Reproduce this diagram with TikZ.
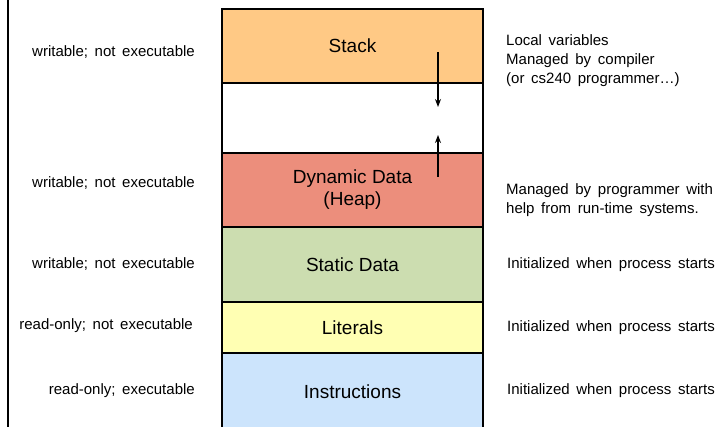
\documentclass[tikz,border=0pt]{standalone}
\usepackage{fontspec}
\setmainfont{Liberation Sans}
\newfontfamily\sidefont[WordSpace=1.6]{Liberation Sans}
\usetikzlibrary{arrows.meta, positioning}
\definecolor{stackFill}{HTML}{FFC985}
\definecolor{heapFill}{HTML}{EC8E7C}
\definecolor{staticFill}{HTML}{CCDDB0}
\definecolor{literalFill}{HTML}{FFFFB3}
\definecolor{codeFill}{HTML}{CCE4FC}
\tikzstyle{segment}=[draw,line width=1.5pt,minimum width=261pt,inner sep=0pt,outer sep=0pt,align=center,font=\fontsize{19}{22}\selectfont]
\tikzstyle{access}=[anchor=east,inner sep=0pt,font=\sidefont\fontsize{15}{19}\selectfont]
\tikzstyle{note}=[anchor=west,align=left,inner sep=0pt,font=\sidefont\fontsize{15}{19}\selectfont]
\tikzstyle{growth}=[line width=1.2pt,-{Stealth[length=8pt,width=6pt]}]

\begin{document}
\begin{tikzpicture}[x=1pt,y=-1pt]
    \clip (0,0) rectangle (728,427);
    \draw[line width=1.5pt] (8,0) -- (8,427);

    \node (stack)[segment,fill=stackFill,minimum height=74pt] at (352.5,46) {Stack};
    \node (gap)[segment,fill=white,minimum height=70pt,below=0pt of stack] {};
    \node (heap)[segment,fill=heapFill,minimum height=74pt,below=0pt of gap] {Dynamic Data\\(Heap)};
    \node (static)[segment,fill=staticFill,minimum height=75pt,below=0pt of heap] {Static Data};
    \node (literals)[segment,fill=literalFill,minimum height=51pt,below=0pt of static] {Literals};
    \node (code)[segment,fill=codeFill,minimum height=78pt,below=0pt of literals] {Instructions};

    % growth of stack and heap
    \coordinate (stackTop) at (438,52);
    \coordinate (stackEnd) at (438,107);
    \coordinate (heapTop) at (438,177);
    \coordinate (heapEnd) at (438,135);
    \draw[growth] (stackTop) -- (stackEnd);
    \draw[growth] (heapTop) -- (heapEnd);

    \node (aStack)[access] at (195,52) {writable; not executable};
    \node (aHeap)[access] at (195,183) {writable; not executable};
    \node (aStatic)[access] at (195,264) {writable; not executable};
    \node (aLiterals)[access] at (193,326) {read-only; not executable};
    \node (aCode)[access] at (195,391) {read-only; executable};

    \node (nStack)[note] at (506,61) {Local variables\\Managed by compiler\\(or cs240 programmer\dots)};
    \node (nHeap)[note] at (506,200) {Managed by programmer with\\help from run-time systems.};
    \node (nStatic)[note] at (507,265) {Initialized when process starts};
    \node (nLiterals)[note] at (507,328) {Initialized when process starts};
    \node (nCode)[note] at (507,391) {Initialized when process starts};

\end{tikzpicture}
\end{document}
